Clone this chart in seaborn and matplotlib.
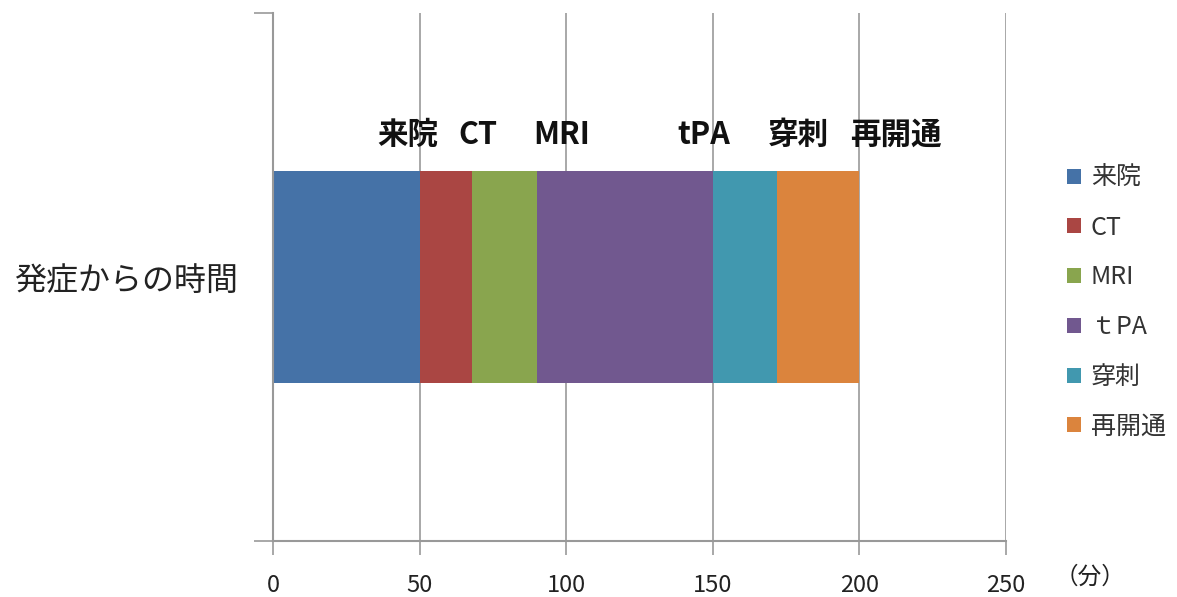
import matplotlib
matplotlib.use("Agg")
import matplotlib.pyplot as plt
import matplotlib.transforms as mtransforms
from matplotlib.patches import Patch
import seaborn as sns
import pandas as pd
import numpy as np

category = "発症からの時間"
stages = ["来院", "CT", "MRI", "tPA", "穿刺", "再開通"]
legend_labels = ["来院", "CT", "MRI", "ｔPA", "穿刺", "再開通"]
durations = [50, 18, 22, 60, 22, 28]
label_x = [46, 70, 98.5, 147, 179, 212.5]
colors = ["#4572A7", "#AA4643", "#89A54E", "#71588F", "#4198AF", "#DB843D"]
xticks = [0, 50, 100, 150, 200, 250]

sns.set_theme(style="white")
plt.rcParams["font.family"] = ["Noto Sans CJK JP", "DejaVu Sans"]

fig = plt.figure(figsize=(11.77, 5.97), dpi=100)
ax = fig.add_axes([273/1177, 1 - 541/597, (1006-273)/1177, (541-13)/597])

cum = np.cumsum(durations)
# draw cumulative bars from largest to smallest so they stack visually
for i in range(len(stages) - 1, -1, -1):
    df = pd.DataFrame({"t": [cum[i]], "cat": [category]})
    sns.barplot(data=df, x="t", y="cat", orient="h", color=colors[i],
                width=0.4, saturation=1, ax=ax, linewidth=0, zorder=3)

ax.set_xlim(0, 250)
ax.set_ylim(0.5, -0.5)
ax.set_xticks(xticks)
ax.set_xticklabels([str(v) for v in xticks], fontsize=17, color="#222222")
ax.set_yticks([0])
ax.set_yticklabels([category], fontsize=23, color="#222222")
ax.set_yticks([-0.5, 0.5], minor=True)
ax.tick_params(axis="y", which="both", left=True)
ax.tick_params(axis="x", which="both", bottom=True)
ax.tick_params(axis="y", which="major", length=0, pad=25)
ax.tick_params(axis="y", which="minor", length=14, width=1.2, color="#999999", direction="out")
ax.tick_params(axis="x", which="major", length=10, width=1.2, color="#999999", direction="out", pad=14)
ax.set_xlabel("")
ax.set_ylabel("")

for v in xticks[1:]:
    ax.axvline(v, color="#999999", lw=1.2, zorder=1)

for s in ["top", "right"]:
    ax.spines[s].set_visible(False)
for s in ["left", "bottom"]:
    ax.spines[s].set_color("#999999")
    ax.spines[s].set_linewidth(1.5)
    ax.spines[s].set_zorder(4)

trans = mtransforms.blended_transform_factory(ax.transData, ax.transAxes)
for lx, lab in zip(label_x, stages):
    ax.text(lx, 0.769, lab, transform=trans, ha="center", va="center",
            fontsize=22, fontweight="bold", color="#111111")

ax.text(1.066, -0.068, "（分）", transform=ax.transAxes, ha="left", va="center",
        fontsize=17, color="#222222")

handles = [Patch(facecolor=c, edgecolor="none") for c in colors]
fig.legend(handles, legend_labels, loc="upper left", bbox_to_anchor=(1057/1177, 1 - 155/597),
           frameon=False, fontsize=18, handlelength=0.55, handleheight=0.55,
           handletextpad=0.4, labelspacing=0.95, borderaxespad=0, labelcolor="#333333")

fig.savefig("out.png", dpi=100, facecolor="white")
